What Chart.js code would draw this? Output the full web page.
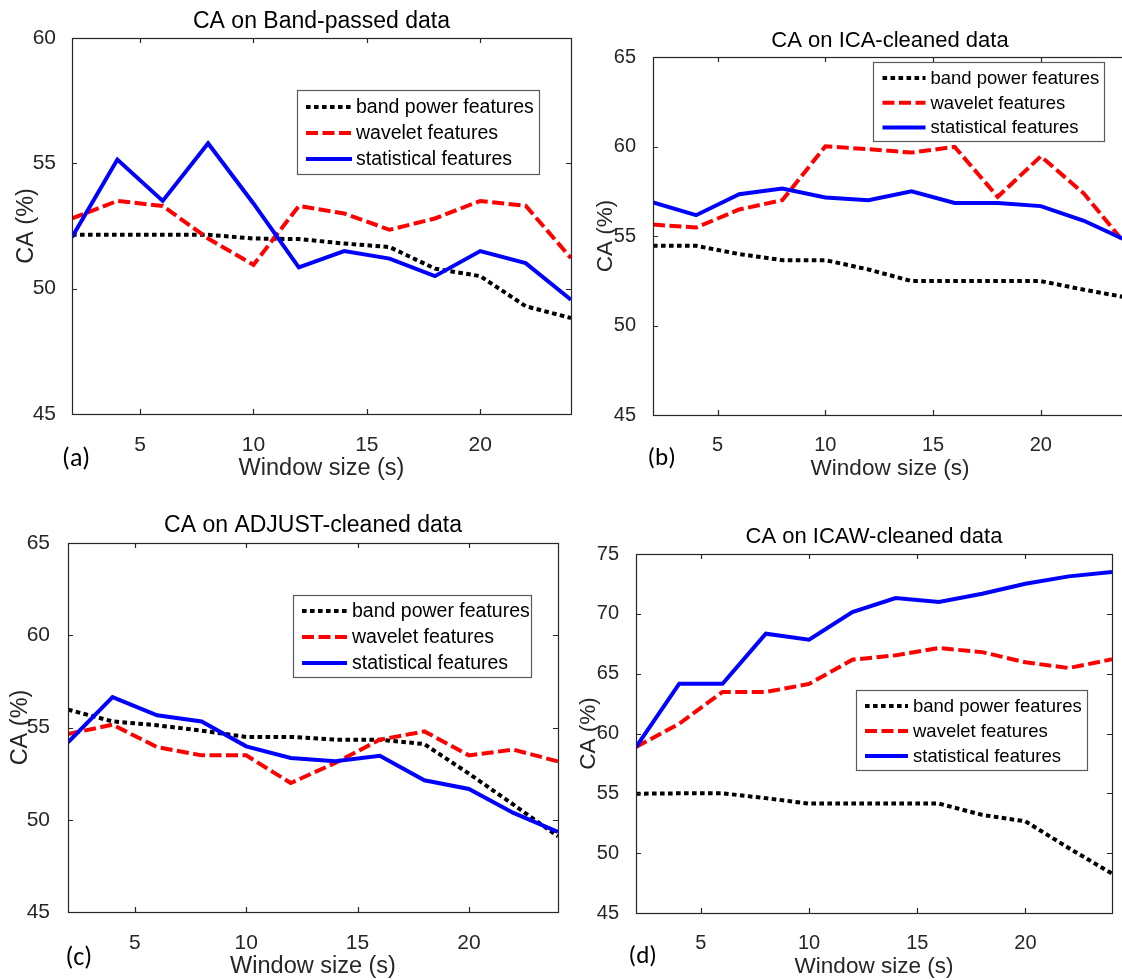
<!DOCTYPE html>
<html>
<head>
<meta charset="utf-8">
<script src="https://cdn.jsdelivr.net/npm/chart.js@4.4.0/dist/chart.umd.min.js"></script>
<style>
  html, body { margin: 0; padding: 0; background: #fff; width: 1122px; height: 980px; overflow: hidden; position: relative; }
  canvas { position: absolute; }
</style>
</head>
<body>
<canvas id="chartA" width="580" height="490" style="left:0px;top:0px"></canvas>
<canvas id="chartB" width="560" height="490" style="left:580px;top:0px"></canvas>
<canvas id="chartC" width="575" height="500" style="left:0px;top:490px"></canvas>
<canvas id="chartD" width="552" height="500" style="left:570px;top:490px"></canvas>
<script>
// window sizes (s) on the x axis
const windowSizes = [2, 4, 6, 8, 10, 12, 14, 16, 18, 20, 22, 24];
const seriesNames = ["band power features", "wavelet features", "statistical features"];

// (a) CA on Band-passed data
const bandPassedPower = [52.15, 52.15, 52.15, 52.15, 52.0, 51.98, 51.8, 51.66, 50.8, 50.5, 49.3, 48.83];
const bandPassedWavelet = [52.8, 53.5, 53.3, 52.0, 50.95, 53.3, 53.0, 52.35, 52.8, 53.5, 53.31, 51.22];
const bandPassedStat = [52.05, 55.15, 53.5, 55.8, 53.4, 50.85, 51.5, 51.2, 50.5, 51.5, 51.02, 49.56];

// (b) CA on ICA-cleaned data
const icaPower = [54.45, 54.45, 53.99, 53.65, 53.65, 53.13, 52.48, 52.48, 52.48, 52.48, 52.0, 51.56];
const icaWavelet = [55.64, 55.47, 56.48, 57.0, 60.01, 59.85, 59.66, 59.98, 57.19, 59.45, 57.37, 54.45];
const icaStat = [56.87, 56.16, 57.33, 57.65, 57.15, 57.0, 57.5, 56.85, 56.85, 56.67, 55.85, 54.74];

// (c) CA on ADJUST-cleaned data
const adjustPower = [55.97, 55.33, 55.12, 54.83, 54.49, 54.49, 54.34, 54.34, 54.1, 52.5, 50.82, 49.1];
const adjustWavelet = [54.65, 55.15, 53.94, 53.49, 53.49, 51.99, 53.08, 54.34, 54.79, 53.49, 53.8, 53.16];
const adjustStat = [54.2, 56.65, 55.66, 55.33, 53.98, 53.35, 53.17, 53.47, 52.14, 51.67, 50.37, 49.34];

// (d) CA on ICAW-cleaned data
const icawPower = [54.97, 55.0, 55.0, 54.6, 54.14, 54.14, 54.14, 54.14, 53.2, 52.66, 50.43, 48.29];
const icawWavelet = [58.87, 60.82, 63.47, 63.47, 64.14, 66.17, 66.53, 67.14, 66.8, 65.95, 65.47, 66.2];
const icawStat = [58.87, 64.16, 64.16, 68.34, 67.84, 70.15, 71.32, 70.99, 71.68, 72.52, 73.13, 73.5];

const axisColor = '#262626';
const fontFamily = "'Liberation Sans', Arial, Helvetica, sans-serif";
const tagFamily = "Carlito, Lato, 'Open Sans', sans-serif";

// boxed axes with inward ticks, title, panel tag and legend like the matlab figure
const matlabAxes = {
  id: 'matlabAxes',
  afterDatasetsDraw(chart, args, opts) {
    const ctx = chart.ctx;
    const a = chart.chartArea;
    const xs = chart.scales.x, ys = chart.scales.y;
    ctx.save();
    ctx.strokeStyle = axisColor;
    ctx.lineWidth = 1.2;
    ctx.beginPath();
    xs.ticks.forEach(t => {
      const px = Math.round(xs.getPixelForValue(t.value)) + 0.5;
      ctx.moveTo(px, a.bottom); ctx.lineTo(px, a.bottom - 5);
      ctx.moveTo(px, a.top); ctx.lineTo(px, a.top + 5);
    });
    ys.ticks.forEach(t => {
      const py = Math.round(ys.getPixelForValue(t.value)) + 0.5;
      ctx.moveTo(a.left, py); ctx.lineTo(a.left + 5, py);
      ctx.moveTo(a.right, py); ctx.lineTo(a.right - 5, py);
    });
    ctx.stroke();
    ctx.strokeRect(a.left + 0.5, a.top + 0.5, a.right - a.left, a.bottom - a.top);

    // title
    ctx.fillStyle = '#000';
    ctx.textAlign = 'center';
    ctx.textBaseline = 'alphabetic';
    ctx.font = opts.titleSize + 'px ' + fontFamily;
    ctx.fillText(opts.title, (a.left + a.right) / 2, a.top - opts.titleGap);

    // panel tag
    ctx.textAlign = 'left';
    ctx.font = opts.tagSize + 'px ' + tagFamily;
    ctx.fillText(opts.tag, a.left + opts.tagDx, a.bottom + opts.tagDy);

    // legend
    const lg = opts.legend;
    const bx = a.left + lg.dx, by = a.top + lg.dy;
    ctx.fillStyle = '#fff';
    ctx.fillRect(bx, by, lg.w, lg.h);
    ctx.strokeStyle = '#5a5a5a';
    ctx.lineWidth = 1.2;
    ctx.strokeRect(bx + 0.5, by + 0.5, lg.w, lg.h);
    ctx.font = lg.size + 'px ' + fontFamily;
    ctx.textBaseline = 'middle';
    chart.data.datasets.forEach((ds, i) => {
      const ry = by + lg.first + i * lg.step;
      ctx.save();
      ctx.strokeStyle = ds.borderColor;
      ctx.lineWidth = ds.borderWidth;
      ctx.lineCap = 'butt';
      ctx.setLineDash(ds.borderDash || []);
      ctx.beginPath();
      ctx.moveTo(bx + lg.sample, ry);
      ctx.lineTo(bx + lg.sample + lg.len, ry);
      ctx.stroke();
      ctx.restore();
      ctx.fillStyle = '#000';
      ctx.fillText(ds.label, bx + lg.text, ry + 1);
    });
    ctx.restore();
  }
};

function points(vals) {
  return windowSizes.map((w, i) => ({x: w, y: vals[i]}));
}

function makePanel(id, power, wavelet, stat, p) {
  const datasets = [
    {label: seriesNames[0], data: points(power), borderColor: '#000000', borderWidth: 4, borderDash: [4.6, 3.4], order: 3},
    {label: seriesNames[1], data: points(wavelet), borderColor: '#ff0000', borderWidth: 4, borderDash: [12, 4.5], order: 2},
    {label: seriesNames[2], data: points(stat), borderColor: '#0000ff', borderWidth: 4, order: 1}
  ];
  datasets.forEach(d => { d.pointRadius = 0; d.tension = 0; d.fill = false; d.clip = 0; d.borderCapStyle = 'butt'; });

  return new Chart(document.getElementById(id), {
    type: 'line',
    data: {datasets: datasets},
    options: {
      responsive: false,
      animation: false,
      events: [],
      layout: {padding: {left: 0, top: p.padTop, right: p.padRight, bottom: 0}},
      plugins: {
        legend: {display: false},
        tooltip: {enabled: false},
        matlabAxes: p.axes
      },
      scales: {
        x: {
          type: 'linear', min: 2, max: 24,
          grid: {display: false}, border: {display: false},
          ticks: {stepSize: 5, includeBounds: false, padding: p.xTickPad, color: axisColor, font: {family: fontFamily, size: p.tickSize}, maxRotation: 0},
          title: {display: true, text: 'Window size (s)', color: axisColor, font: {family: fontFamily, size: p.labelSize}, padding: {top: 0, bottom: p.xTitlePad}},
          afterFit: s => { s.height = p.xHeight; }
        },
        y: {
          min: p.yMin, max: p.yMax,
          grid: {display: false}, border: {display: false},
          ticks: {stepSize: 5, padding: p.yTickPad, color: axisColor, font: {family: fontFamily, size: p.tickSize}},
          title: {display: true, text: 'CA (%)', color: axisColor, font: {family: fontFamily, size: p.labelSize}, padding: {top: p.yTitlePad, bottom: 0}},
          afterFit: s => { s.width = p.yWidth; }
        }
      }
    },
    plugins: [matlabAxes]
  });
}

makePanel('chartA', bandPassedPower, bandPassedWavelet, bandPassedStat, {
  yMin: 45, yMax: 60, padTop: 38, padRight: 9, yWidth: 72, xHeight: 76,
  tickSize: 21, labelSize: 23.5, xTickPad: 10.5, yTickPad: 8, xTitlePad: 7, yTitlePad: 12,
  axes: {title: 'CA on Band-passed data', titleSize: 23, titleGap: 10, tag: '(a)', tagSize: 26, tagDx: -10, tagDy: 52,
    legend: {dx: 225, dy: 52, w: 242, h: 84, first: 17, step: 26, sample: 9, len: 46, text: 59, size: 19.5}}
});

makePanel('chartB', icaPower, icaWavelet, icaStat, {
  yMin: 45, yMax: 65, padTop: 57, padRight: 13, yWidth: 73, xHeight: 75,
  tickSize: 20, labelSize: 22.5, xTickPad: 10.5, yTickPad: 9, xTitlePad: 8, yTitlePad: 12,
  axes: {title: 'CA on ICA-cleaned data', titleSize: 22, titleGap: 10, tag: '(b)', tagSize: 25, tagDx: -5.5, tagDy: 50,
    legend: {dx: 220, dy: 5, w: 231, h: 79, first: 16, step: 24.7, sample: 9.5, len: 43, text: 57.5, size: 18.5}}
});

makePanel('chartC', adjustPower, adjustWavelet, adjustStat, {
  yMin: 45, yMax: 65, padTop: 53, padRight: 17, yWidth: 68, xHeight: 78,
  tickSize: 21, labelSize: 23.5, xTickPad: 11, yTickPad: 10, xTitlePad: 9, yTitlePad: 6.5,
  axes: {title: 'CA on ADJUST-cleaned data', titleSize: 23, titleGap: 11, tag: '(c)', tagSize: 26, tagDx: -2.6, tagDy: 52.7,
    legend: {dx: 225, dy: 52, w: 238, h: 82, first: 16, step: 26, sample: 9, len: 45, text: 59, size: 19.5}}
});

makePanel('chartD', icawPower, icawWavelet, icawStat, {
  yMin: 45, yMax: 75, padTop: 64, padRight: 10, yWidth: 66, xHeight: 77,
  tickSize: 20, labelSize: 22.5, xTickPad: 10.5, yTickPad: 9, xTitlePad: 10, yTitlePad: 5.5,
  axes: {title: 'CA on ICAW-cleaned data', titleSize: 22, titleGap: 11, tag: '(d)', tagSize: 25, tagDx: -7.4, tagDy: 50,
    legend: {dx: 220, dy: 136, w: 231, h: 80, first: 16, step: 25, sample: 9, len: 43, text: 57, size: 18.5}}
});
</script>
</body>
</html>
